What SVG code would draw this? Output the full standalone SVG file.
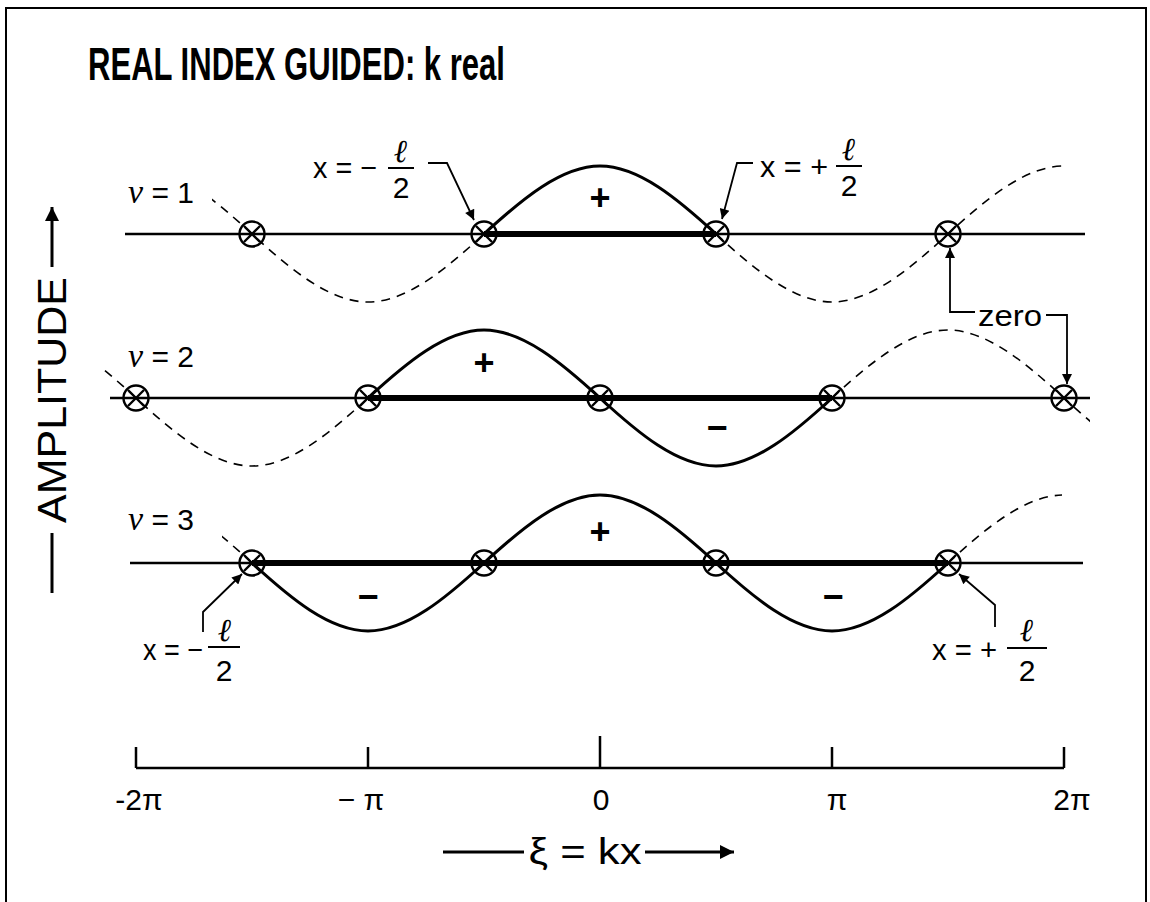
<svg xmlns="http://www.w3.org/2000/svg" width="1150" height="902" viewBox="0 0 1150 902">
<defs>
<style>
.t{font-family:"Liberation Sans","DejaVu Sans",sans-serif;fill:#000}
.nu{font-family:"Liberation Serif","DejaVu Serif",serif;font-style:italic}
.base{stroke:#000;stroke-width:2.5;fill:none}
.thick{stroke:#000;stroke-width:6;fill:none}
.solid{stroke:#000;stroke-width:3;fill:none}
.dash{stroke:#000;stroke-width:1.6;fill:none;stroke-dasharray:9 7}
.lead{stroke:#000;stroke-width:1.8;fill:none}
.zm{stroke:#000;stroke-width:2.4;fill:none}
</style>
<marker id="ah" viewBox="0 0 10 10" refX="10" refY="5" markerWidth="16" markerHeight="10" markerUnits="userSpaceOnUse" orient="auto"><path d="M0,0 L10,5 L0,10 Z" fill="#000"/></marker>
<marker id="ahb" viewBox="0 0 10 10" refX="10" refY="5" markerWidth="22" markerHeight="14" markerUnits="userSpaceOnUse" orient="auto"><path d="M0,0 L10,5 L0,10 Z" fill="#000"/></marker>
<g id="zsym"><circle r="12.5" class="zm"/><path d="M-8,-8 L8,8 M8,-8 L-8,8" class="zm"/></g>
<clipPath id="c1"><rect x="212" y="0" width="850" height="902"/></clipPath>
<clipPath id="c2"><rect x="100" y="0" width="990" height="902"/></clipPath>
<clipPath id="c3"><rect x="222" y="0" width="840" height="902"/></clipPath>
</defs>
<rect x="6" y="8" width="1140" height="910" fill="none" stroke="#000" stroke-width="2"/>
<g id="title"><text class="t" x="88" y="80" font-size="46" font-weight="bold" textLength="417" lengthAdjust="spacingAndGlyphs">REAL INDEX GUIDED:  k real</text></g>
<g id="amplitude-axis">
<line x1="52" y1="267" x2="52" y2="207" stroke="#000" stroke-width="3" marker-end="url(#ahb)"/>
<text class="t" transform="translate(66,523) rotate(-90)" font-size="40" textLength="246" lengthAdjust="spacingAndGlyphs">AMPLITUDE</text>
<line x1="52" y1="533" x2="52" y2="593" stroke="#000" stroke-width="3"/>
</g>
<g id="connectors">
<line x1="125" y1="234" x2="1085" y2="234" class="base"/>
<line x1="484" y1="234" x2="716" y2="234" class="thick"/>
<path class="solid" d="M484,234 C521.8,199.2 561.3,166 600,166 S678.2,199.2 716,234"/>
<path class="dash" clip-path="url(#c1)" d="M136,166 C174.7,166 214.2,199.2 252,234 S329.3,302 368,302 S446.2,268.8 484,234"/>
<path class="dash" clip-path="url(#c1)" d="M716,234 C753.8,268.8 793.3,302 832,302 S910.2,268.8 948,234 S1025.3,166 1064,166"/>
<line x1="110" y1="398" x2="1090" y2="398" class="base"/>
<line x1="368" y1="398" x2="832" y2="398" class="thick"/>
<path class="solid" d="M368,398 C405.8,363.2 445.3,330 484,330 S562.2,363.2 600,398 S677.3,466 716,466 S794.2,432.8 832,398"/>
<path class="dash" clip-path="url(#c2)" d="M20,330 C58.7,330 98.2,363.2 136,398 S213.3,466 252,466 S330.2,432.8 368,398"/>
<path class="dash" clip-path="url(#c2)" d="M832,398 C869.8,363.2 909.3,330 948,330 S1026.2,363.2 1064,398 S1141.3,466 1180,466"/>
<line x1="130" y1="563" x2="1083" y2="563" class="base"/>
<line x1="252" y1="563" x2="948" y2="563" class="thick"/>
<path class="solid" d="M252,563 C289.8,597.8 329.3,631 368,631 S446.2,597.8 484,563 S561.3,495 600,495 S678.2,528.2 716,563 S793.3,631 832,631 S910.2,597.8 948,563"/>
<path class="dash" clip-path="url(#c3)" d="M136,495 C174.7,495 214.2,528.2 252,563"/>
<path class="dash" clip-path="url(#c3)" d="M948,563 C985.8,528.2 1025.3,495 1064,495"/>
<path class="lead" d="M428,163 H447 L474,220" marker-end="url(#ah)"/>
<path class="lead" d="M753,163 H737 L722,219" marker-end="url(#ah)"/>
<path class="lead" d="M203,632 V612 L242,574" marker-end="url(#ah)"/>
<path class="lead" d="M995,627 V605 L959,574" marker-end="url(#ah)"/>
<path class="lead" d="M975,312 H950 V248" marker-end="url(#ah)"/>
<path class="lead" d="M1046,315 H1067 V384" marker-end="url(#ah)"/>
<path class="base" d="M136,768 H1064 M136,768 V747 M368,768 V747 M600,768 V736 M832,768 V747 M1064,768 V747"/>
<line x1="443" y1="852" x2="524" y2="852" stroke="#000" stroke-width="3"/>
<line x1="645" y1="852" x2="734" y2="852" stroke="#000" stroke-width="3" marker-end="url(#ahb)"/>
</g>
<g id="zeros">
<use href="#zsym" x="252" y="234"/><use href="#zsym" x="484" y="234"/><use href="#zsym" x="716" y="234"/><use href="#zsym" x="948" y="234"/>
<use href="#zsym" x="136" y="398"/><use href="#zsym" x="368" y="398"/><use href="#zsym" x="600" y="398"/><use href="#zsym" x="832" y="398"/><use href="#zsym" x="1064" y="398"/>
<use href="#zsym" x="252" y="563"/><use href="#zsym" x="484" y="563"/><use href="#zsym" x="716" y="563"/><use href="#zsym" x="948" y="563"/>
</g>
<g id="nu-labels">
<text class="t" x="128" y="203" font-size="30"><tspan class="nu" font-size="34">ν</tspan> = 1</text>
<text class="t" x="128" y="367" font-size="30"><tspan class="nu" font-size="34">ν</tspan> = 2</text>
<text class="t" x="128" y="530" font-size="30"><tspan class="nu" font-size="34">ν</tspan> = 3</text>
</g>
<g id="signs" font-weight="bold" text-anchor="middle">
<text class="t" x="600" y="210" font-size="36">+</text>
<text class="t" x="484" y="375" font-size="36">+</text>
<text class="t" x="717" y="440" font-size="36">−</text>
<text class="t" x="600" y="544" font-size="36">+</text>
<text class="t" x="368" y="609" font-size="36">−</text>
<text class="t" x="833" y="609" font-size="36">−</text>
</g>
<g id="label-tl">
<text class="t" x="313" y="178" font-size="30" textLength="64" lengthAdjust="spacingAndGlyphs">x = −</text>
<text class="nu" x="401" y="162" font-size="32" text-anchor="middle" font-weight="bold">ℓ</text>
<line x1="388" y1="168" x2="414" y2="168" stroke="#000" stroke-width="2"/>
<text class="t" x="401" y="198" font-size="30" text-anchor="middle">2</text>
</g>
<g id="label-tr">
<text class="t" x="760" y="177" font-size="30" textLength="68" lengthAdjust="spacingAndGlyphs">x = +</text>
<text class="nu" x="849" y="160" font-size="32" text-anchor="middle" font-weight="bold">ℓ</text>
<line x1="836" y1="166" x2="862" y2="166" stroke="#000" stroke-width="2"/>
<text class="t" x="849" y="196" font-size="30" text-anchor="middle">2</text>
</g>
<g id="label-bl">
<text class="t" x="143" y="660" font-size="30" textLength="60" lengthAdjust="spacingAndGlyphs">x = −</text>
<text class="nu" x="225" y="641" font-size="32" text-anchor="middle" font-weight="bold">ℓ</text>
<line x1="208" y1="647" x2="240" y2="647" stroke="#000" stroke-width="2"/>
<text class="t" x="224" y="681" font-size="30" text-anchor="middle">2</text>
</g>
<g id="label-br">
<text class="t" x="932" y="660" font-size="30" textLength="65" lengthAdjust="spacingAndGlyphs">x = +</text>
<text class="nu" x="1027" y="641" font-size="32" text-anchor="middle" font-weight="bold">ℓ</text>
<line x1="1007" y1="648" x2="1047" y2="648" stroke="#000" stroke-width="2"/>
<text class="t" x="1027" y="681" font-size="30" text-anchor="middle">2</text>
</g>
<g id="label-zero"><text class="t" x="978" y="326" font-size="30" textLength="64" lengthAdjust="spacingAndGlyphs">zero</text></g>
<g id="tick-labels" text-anchor="middle" font-size="30">
<text class="t" x="139" y="810">-2π</text>
<text class="t" x="361" y="810">− π</text>
<text class="t" x="601" y="810">0</text>
<text class="t" x="837" y="810">π</text>
<text class="t" x="1072" y="810">2π</text>
</g>
<g id="xi-label"><text class="t" x="585" y="864" font-size="36" text-anchor="middle" textLength="113" lengthAdjust="spacingAndGlyphs">ξ = kx</text></g>
</svg>
